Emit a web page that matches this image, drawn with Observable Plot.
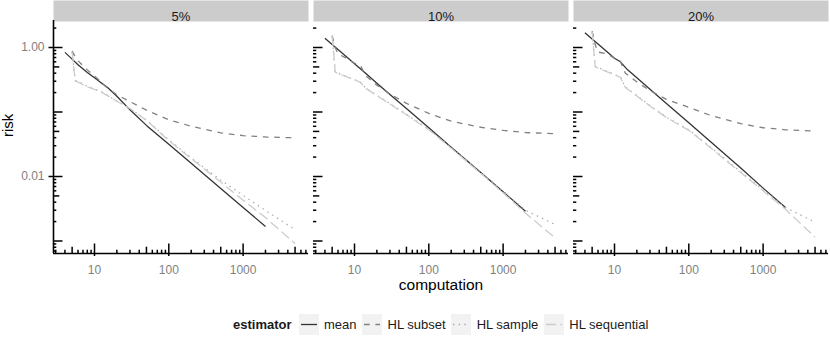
<!DOCTYPE html>
<html><head><meta charset="utf-8">
<script src="https://cdn.jsdelivr.net/npm/d3@7"></script>
<script src="https://cdn.jsdelivr.net/npm/@observablehq/plot@0.6"></script>
<style>
html,body{margin:0;padding:0;background:#fff;}
body{font-family:"Liberation Sans",Arial,Helvetica,sans-serif;width:830px;}
#legend{display:flex;justify-content:flex-start;align-items:center;height:40px;margin-top:7px;font-size:13px;color:#1a1a1a;padding-left:233px;}
#legend .title{font-weight:bold;margin-right:7px;}
#legend .item{display:flex;align-items:center;margin-right:5.5px;}
#legend .item span{margin-left:5.5px;}
#legend svg{display:block;}
</style></head><body>
<div id="chart"></div>
<div id="legend"></div>
<script>
// ---- data ----
const panels = ["5%", "10%", "20%"];
const estimators = ["mean", "HL subset", "HL sample", "HL sequential"];
const nMean = [4, 5, 6, 8, 10, 12, 15, 20, 30, 50, 100, 200, 500, 1000, 2000];
const nHL = [5, 5.5, 6, 8, 10, 12, 14, 20, 30, 50, 100, 200, 500, 1000, 2000, 5000];

const mean5 = [0.84, 0.66, 0.54, 0.41, 0.34, 0.29, 0.24, 0.175, 0.108, 0.062, 0.0315, 0.016, 0.0065, 0.0033, 0.00168];
const subset5 = [0.88, 0.72, 0.62, 0.45, 0.36, 0.30, 0.25, 0.185, 0.145, 0.107, 0.076, 0.060, 0.0475, 0.043, 0.041, 0.0398];
const sample5 = [0.85, 0.31, 0.30, 0.25, 0.228, 0.21, 0.19, 0.148, 0.114, 0.075, 0.037, 0.0195, 0.0088, 0.0051, 0.00297, 0.0015];
const seq5 = [0.85, 0.30, 0.29, 0.245, 0.225, 0.207, 0.188, 0.147, 0.113, 0.0745, 0.036, 0.019, 0.0082, 0.0043, 0.00231, 0.00091];

const mean10 = [1.39, 1.11, 0.93, 0.70, 0.56, 0.47, 0.375, 0.28, 0.187, 0.113, 0.057, 0.0285, 0.0115, 0.0058, 0.0029];
const subset10 = [1.53, 1.0, 0.80, 0.67, 0.57, 0.53, 0.37, 0.26, 0.19, 0.136, 0.095, 0.072, 0.058, 0.052, 0.048, 0.046];
const sample10 = [1.5, 0.42, 0.40, 0.35, 0.318, 0.29, 0.238, 0.181, 0.135, 0.092, 0.054, 0.028, 0.0116, 0.0059, 0.0030, 0.0018];
const seq10 = [1.5, 0.414, 0.397, 0.348, 0.315, 0.288, 0.235, 0.179, 0.133, 0.0905, 0.053, 0.0275, 0.0112, 0.0056, 0.0027, 0.00112];

const mean20 = [1.70, 1.36, 1.13, 0.85, 0.68, 0.60, 0.45, 0.34, 0.226, 0.136, 0.068, 0.034, 0.0136, 0.0066, 0.0033];
const subset20 = [1.79, 1.1, 0.85, 0.80, 0.68, 0.61, 0.40, 0.292, 0.215, 0.157, 0.118, 0.088, 0.066, 0.057, 0.053, 0.0505];
const sample20 = [1.75, 0.51, 0.49, 0.425, 0.38, 0.35, 0.243, 0.179, 0.126, 0.083, 0.053, 0.028, 0.0118, 0.0062, 0.0033, 0.00196];
const seq20 = [1.75, 0.50, 0.48, 0.419, 0.377, 0.345, 0.24, 0.177, 0.124, 0.082, 0.052, 0.0274, 0.0115, 0.006, 0.0031, 0.00115];

const xTicks = [10, 100, 1000];
const xTickLabels = ["10", "100", "1000"];
const yTicks = [1, 0.01];
const yTickLabels = ["1.00", "0.01"];
const decades = [0.0001, 0.001, 0.01, 0.1, 1, 10, 100, 1000];
const mantissas = [1, 2, 3, 4, 5, 6, 7, 8, 9];

// ---- styles ----
const colors = {"mean": "#333333", "HL subset": "#818181", "HL sample": "#ababab", "HL sequential": "#cccccc"};
const dashes = {"mean": null, "HL subset": "5.7,5.7", "HL sample": "1.4,4.3", "HL sequential": "10,4.3"};

// ---- build table ----
const series = {
  "5%": {"mean": mean5, "HL subset": subset5, "HL sample": sample5, "HL sequential": seq5},
  "10%": {"mean": mean10, "HL subset": subset10, "HL sample": sample10, "HL sequential": seq10},
  "20%": {"mean": mean20, "HL subset": subset20, "HL sample": sample20, "HL sequential": seq20}
};
const rows = [];
for (const p of panels) for (const e of estimators) {
  const ns = e === "mean" ? nMean : nHL;
  series[p][e].forEach((r, i) => rows.push({panel: p, estimator: e, n: ns[i], risk: r}));
}

const xDomain = [2.807, 7586];
const yDomain = [0.00064, 2.622];
const inside = (v, d) => v >= d[0] && v <= d[1];
const logTicks = (d, m) => decades.flatMap(k => m.map(j => j * k)).filter(v => inside(v, d));
const yLong = logTicks(yDomain, [1]), yMid = logTicks(yDomain, [5]), yShort = logTicks(yDomain, [2, 3, 4, 6, 7, 8, 9]);
const xLong = logTicks(xDomain, [1]), xMid = logTicks(xDomain, [5]), xShort = logTicks(xDomain, [2, 3, 4, 6, 7, 8, 9]);

const W = 830, H = 297, mL = 53, mR = 2, mT = 20, mB = 44;
const bw = 255, ph = H - mT - mB;
const tickW = 1.5;
const fmtX = d => xTickLabels[xTicks.indexOf(d)];
const fmtY = d => yTickLabels[yTicks.indexOf(d)];

const marks = [
  // strips
  Plot.frame({fill: "#cccccc", stroke: "none", insetTop: -mT, insetBottom: ph - 1}),
  Plot.text(panels, {fx: d => d, text: d => d, frameAnchor: "top", dy: -9, fontSize: 13, fill: "#1a1a1a"}),
  // axis lines
  Plot.ruleY([yDomain[0]], {stroke: "black", strokeWidth: 1.6}),
  Plot.ruleX([xDomain[0]], {stroke: "black", strokeWidth: 1.6, facetAnchor: "left"}),
  // log ticks (y, inside left)
  Plot.ruleY(yLong, {insetRight: bw - 9.5, stroke: "black", strokeWidth: tickW}),
  Plot.ruleY(yMid, {insetRight: bw - 6.3, stroke: "black", strokeWidth: tickW}),
  Plot.ruleY(yShort, {insetRight: bw - 3.3, stroke: "black", strokeWidth: tickW}),
  // log ticks (x, inside bottom)
  Plot.ruleX(xLong, {insetTop: ph - 9.5, stroke: "black", strokeWidth: tickW}),
  Plot.ruleX(xMid, {insetTop: ph - 6.3, stroke: "black", strokeWidth: tickW}),
  Plot.ruleX(xShort, {insetTop: ph - 3.3, stroke: "black", strokeWidth: tickW}),
  // axes
  Plot.axisX(xTicks, {tickSize: 3, tickPadding: 9, tickFormat: fmtX, fontSize: 12, fill: "#7f7f7f", stroke: "black", strokeWidth: tickW, label: null}),
  Plot.axisY(yTicks, {tickSize: 4.5, tickPadding: 4.5, tickFormat: fmtY, fontSize: 12, fill: "#7f7f7f", stroke: "black", strokeWidth: tickW, label: null}),
  Plot.text(["risk"], {text: d => d, frameAnchor: "left", dx: -45, rotate: -90, fontSize: 15, fill: "black", facetAnchor: "left"}),
  Plot.text(["10%"], {fx: d => d, text: () => "computation", frameAnchor: "bottom", dy: 36, fontSize: 15.5, fill: "black"}),
  // data lines
  ...estimators.map(e => Plot.line(rows.filter(d => d.estimator === e), {
    fx: "panel", x: "n", y: "risk", stroke: colors[e], strokeWidth: 1.3,
    strokeDasharray: dashes[e], strokeLinecap: "butt"
  }))
];

const chart = Plot.plot({
  width: W, height: H,
  marginLeft: mL, marginRight: mR, marginTop: mT, marginBottom: mB,
  style: {fontFamily: "Liberation Sans, Arial, sans-serif", background: "white"},
  fx: {domain: panels, paddingInner: 5 / 260, paddingOuter: 0, axis: null, label: null},
  x: {type: "log", domain: xDomain, axis: null},
  y: {type: "log", domain: yDomain, axis: null},
  marks
});
document.getElementById("chart").appendChild(chart);

// ---- legend ----
const legend = document.getElementById("legend");
const t = document.createElement("div");
t.className = "title"; t.textContent = "estimator";
legend.appendChild(t);
for (const e of estimators) {
  const item = document.createElement("div");
  item.className = "item";
  const svg = d3.create("svg").attr("width", 20).attr("height", 21);
  svg.append("rect").attr("width", 20).attr("height", 21).attr("fill", "#f2f2f2");
  svg.append("line").attr("x1", 2).attr("x2", 18).attr("y1", 10.5).attr("y2", 10.5)
    .attr("stroke", colors[e]).attr("stroke-width", 1.3)
    .attr("stroke-dasharray", dashes[e]);
  item.appendChild(svg.node());
  const s = document.createElement("span");
  s.textContent = e;
  item.appendChild(s);
  legend.appendChild(item);
}
</script></body></html>
